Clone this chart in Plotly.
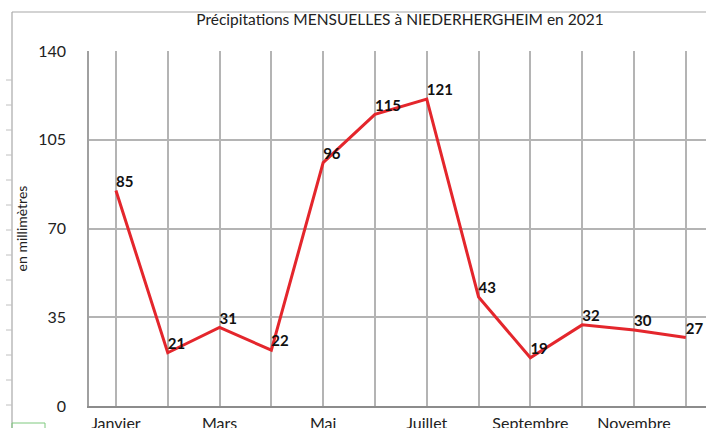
import plotly.graph_objects as go

months = ["Janvier", "Février", "Mars", "Avril", "Mai", "Juin", "Juillet",
          "Août", "Septembre", "Octobre", "Novembre", "Décembre"]
precip = [85, 21, 31, 22, 96, 115, 121, 43, 19, 32, 30, 27]
tick_text = [m if i % 2 == 0 else "" for i, m in enumerate(months)]
y_ticks = [0, 35, 70, 105, 140]

W, H = 706, 428
L, T, B = 89, 51, 22
pw, ph = W - L, H - T - B

def px_x(p):
    return (p - L) / pw

def px_y(p):
    return (H - B - p) / ph

fig = go.Figure()
fig.add_trace(go.Scatter(
    x=months, y=precip, mode="lines+text",
    line=dict(color="#e4262c", width=3),
    text=[f"<b>{v}</b>" for v in precip],
    textposition="top right",
    textfont=dict(family="Lato", size=15, color="#111111"),
    cliponaxis=False, showlegend=False, hoverinfo="skip",
))

shapes = []
gray = "#a8a8a8"
# outer chart frame (cropped)
shapes.append(dict(type="line", xref="paper", yref="paper",
                   x0=px_x(12), x1=px_x(706), y0=px_y(12), y1=px_y(12),
                   line=dict(color=gray, width=1.2)))
shapes.append(dict(type="line", xref="paper", yref="paper",
                   x0=px_x(12), x1=px_x(12), y0=px_y(12), y1=px_y(428),
                   line=dict(color=gray, width=1.2)))
for yy in range(80, 410, 25):
    shapes.append(dict(type="line", xref="paper", yref="paper",
                       x0=px_x(6), x1=px_x(12), y0=px_y(yy), y1=px_y(yy),
                       line=dict(color="#c0c0c0", width=1)))
shapes.append(dict(type="rect", xref="paper", yref="paper",
                   x0=px_x(12), x1=px_x(45), y0=px_y(423), y1=px_y(432),
                   line=dict(color="#7fc97f", width=1)))

fig.update_layout(
    width=W, height=H,
    margin=dict(l=L, r=0, t=T, b=B, autoexpand=False),
    paper_bgcolor="white", plot_bgcolor="white",
    font=dict(family="Lato", color="#222222"),
    title=dict(text="Précipitations MENSUELLES à NIEDERHERGHEIM en 2021",
               x=400 / W, xanchor="center", y=1 - 20 / H, yanchor="middle",
               font=dict(size=15.5, color="#222222"), automargin=False),
    xaxis=dict(type="category", range=[-0.52, 11.39], automargin=False,
               tickvals=months, ticktext=tick_text,
               showgrid=True, gridcolor="#b4b4b4", gridwidth=1.5,
               showline=True, linecolor="#8c8c8c", linewidth=1.5,
               ticks="", tickfont=dict(size=16, color="#222222"),
               ticklabelstandoff=2, zeroline=False),
    yaxis=dict(range=[0, 140], tickvals=y_ticks, automargin=False,
               showgrid=True, gridcolor="#b4b4b4", gridwidth=1.5,
               showline=True, linecolor="#a0a0a0", linewidth=1.5,
               ticks="", tickfont=dict(size=16, color="#222222"),
               ticklabelstandoff=18, zeroline=False,
               title=dict(text="en millimètres", standoff=7,
                          font=dict(size=14, color="#222222"))),
    shapes=shapes,
)

fig.write_html("out.html",
               config={"displayModeBar": False},
               post_script="document.body.style.margin='0';"
                           "document.body.style.overflow='hidden';")
